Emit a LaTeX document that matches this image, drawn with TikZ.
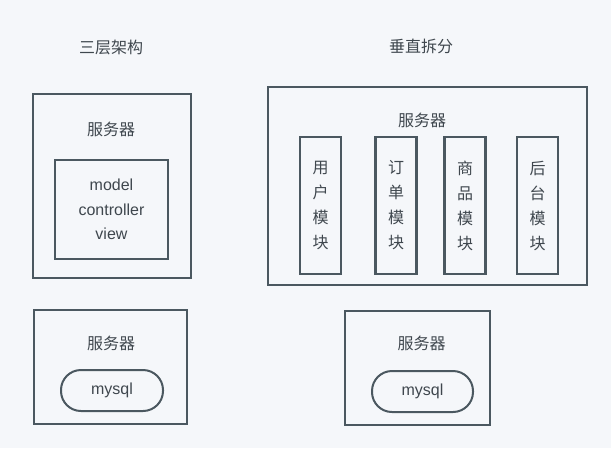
\documentclass[tikz,border=0pt]{standalone}
\usepackage{fontspec}
\usepackage{xcolor}
\usepackage{tikz}
\setmainfont{Liberation Sans}
\newfontfamily\cjk{Noto Sans CJK SC}

\definecolor{bg}{HTML}{F5F7FA}
\definecolor{edge}{HTML}{4B5860}
\definecolor{ink}{HTML}{3F474E}

\begin{document}
\begin{tikzpicture}[x=1pt,y=-1pt,
	box/.style={draw=edge, line width=2.4pt, rectangle, inner sep=0pt},
	pill/.style={draw=edge, line width=2pt, rounded corners=20pt, inner sep=0pt,
		minimum height=41pt, text=ink, font=\fontsize{16}{16}\selectfont},
	zh/.style={text=ink, inner sep=0pt, font=\cjk\fontsize{16}{16}\selectfont},
	en/.style={text=ink, inner sep=0pt, align=center, font=\fontsize{16}{24.5}\selectfont}]

\fill[bg] (0,0) rectangle (611,448);
\useasboundingbox (0,0) rectangle (611,448);

% titles
\node[zh] (tA) at (111,47) {三层架构};
\node[zh] (tB) at (421,46) {垂直拆分};

% three tier
\node[box, minimum width=158pt, minimum height=184pt] (srvA) at (112,186) {};
\node[zh] (srvAlbl) at (111,129) {服务器};
\node[box, minimum width=113pt, minimum height=99pt] (mvc) at (111.5,209.5) {};
\node[en] (mvclbl) at (111.5,209.5) {model\\controller\\view};

\node[box, minimum width=153pt, minimum height=114pt] (dbA) at (110.5,367) {};
\node[zh] (dbAlbl) at (111,343) {服务器};
\node[pill, minimum width=102pt] (sqlA) at (112,390.5) {mysql};

% vertical split
\node[box, minimum width=319pt, minimum height=198pt] (srvB) at (427.5,186) {};
\node[zh] (srvBlbl) at (422,120) {服务器};

\foreach \x/\t [count=\i] in {320.5/{用\\户\\模\\块}, 396/{订\\单\\模\\块},
		465/{商\\品\\模\\块}, 537.5/{后\\台\\模\\块}}{
	\node[box, minimum width=41pt, minimum height=137pt] (mod\i) at (\x,205.5) {};
	\node[zh, align=center, font=\cjk\fontsize{16}{25}\selectfont] (mod\i lbl) at (\x,205.5) {\t};
}

\node[box, minimum width=145pt, minimum height=114pt] (dbB) at (417.5,368) {};
\node[zh] (dbBlbl) at (421.5,343) {服务器};
\node[pill, minimum width=101pt] (sqlB) at (422.5,391.5) {mysql};

\end{tikzpicture}
\end{document}
